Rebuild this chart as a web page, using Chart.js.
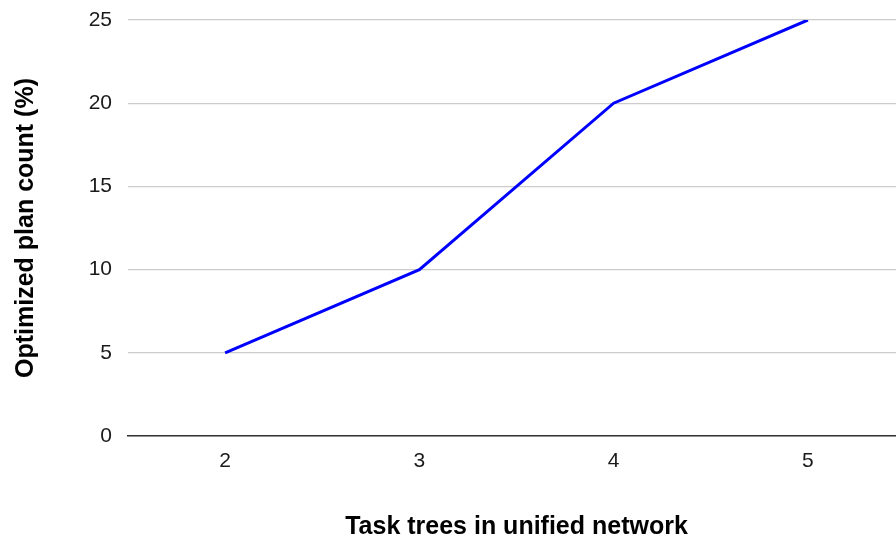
<!DOCTYPE html>
<html>
<head>
<meta charset="utf-8">
<script src="https://cdn.jsdelivr.net/npm/chart.js@4"></script>
<style>
html,body{margin:0;padding:0;background:#fff;overflow:hidden;}
#wrap{width:896px;height:540px;position:relative;overflow:hidden;}
#c{display:block;}
</style>
</head>
<body>
<div id="wrap"><canvas id="c" width="905" height="540"></canvas></div>
<script>
const categories = ["2", "3", "4", "5"];
const planCount = [5, 10, 20, 25];
const yTicks = [0, 5, 10, 15, 20, 25];
const xTitle = "Task trees in unified network";
const yTitle = "Optimized plan count (%)";

const font = "'Liberation Sans', Arial, sans-serif";

new Chart(document.getElementById('c'), {
  type: 'line',
  data: {
    labels: categories,
    datasets: [{
      data: planCount,
      borderColor: '#0000ff',
      borderWidth: 3,
      pointRadius: 0,
      tension: 0,
      fill: false
    }]
  },
  options: {
    responsive: false,
    animation: false,
    layout: { padding: { top: 20, right: 0, left: 0, bottom: 0 } },
    plugins: { legend: { display: false }, tooltip: { enabled: false } },
    scales: {
      x: {
        offset: true,
        grid: { display: false, drawTicks: false },
        border: { display: true, color: '#333333', width: 1.5 },
        ticks: { color: '#1a1a1a', font: { family: font, size: 21 }, padding: 13 },
        title: { display: true, text: xTitle, color: '#000', font: { family: font, size: 25, weight: 'bold', lineHeight: 1.0 }, padding: { top: 0, bottom: 0 } },
        afterFit: s => { s.height = 104; }
      },
      y: {
        min: 0, max: 25,
        afterBuildTicks: s => { s.ticks = yTicks.map(v => ({ value: v })); },
        grid: { color: '#cccccc', lineWidth: 1.2, drawTicks: false },
        border: { display: false },
        ticks: { color: '#1a1a1a', font: { family: font, size: 21, lineHeight: 0.5 }, padding: 16 },
        title: { display: true, text: yTitle, color: '#000', font: { family: font, size: 25, weight: 'bold' }, padding: { top: 11, bottom: 0 } },
        afterFit: s => { s.width = 128; s.paddingTop = 0; }
      }
    }
  }
});
</script>
</body>
</html>
